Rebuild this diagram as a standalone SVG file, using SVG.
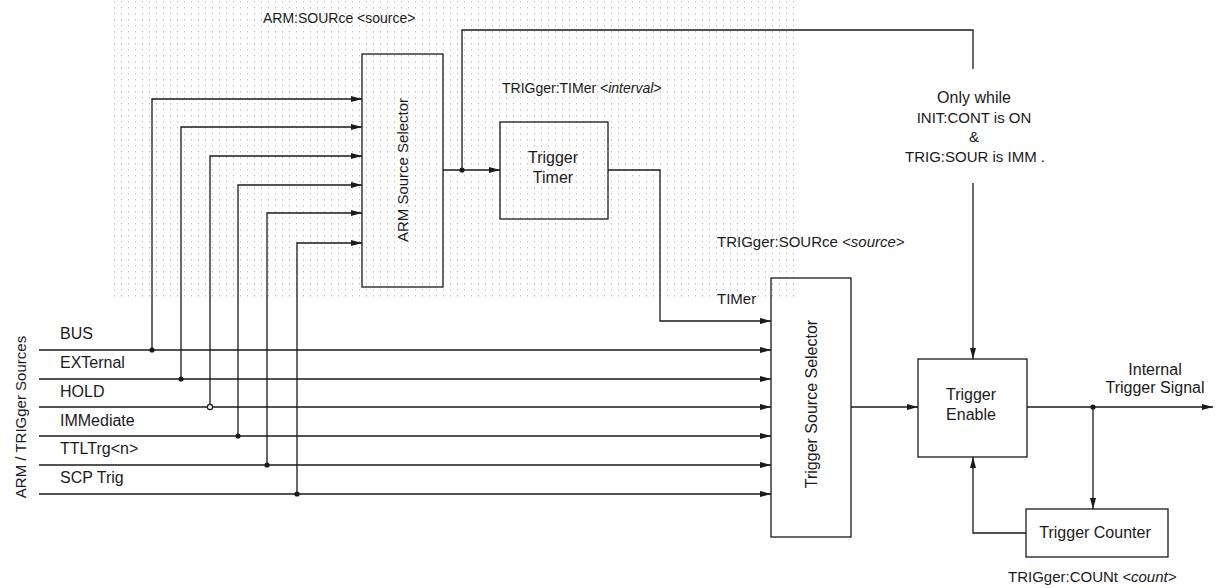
<svg xmlns="http://www.w3.org/2000/svg" width="1216" height="588" viewBox="0 0 1216 588">
<style>
text{font-family:"Liberation Sans",Arial,sans-serif;fill:#1a1a1a}
.lbl{font-size:16px}
.cmd{font-size:14.5px}
.box{fill:none;stroke:#1a1a1a;stroke-width:1.3}
.ln{fill:none;stroke:#1a1a1a;stroke-width:1.3}
.ar{marker-end:url(#arr)}
.dot{fill:#1a1a1a}
.odot{fill:#fff;stroke:#1a1a1a;stroke-width:1.2}
.it{font-style:italic}
</style>
<defs>
<marker id="arr" viewBox="0 0 11 7" refX="11" refY="3.5" markerWidth="11" markerHeight="7" markerUnits="userSpaceOnUse" orient="auto">
<path d="M0,0.5 L11,3.5 L0,6.5 z" fill="#1a1a1a"/>
</marker>
<pattern id="stip" width="7" height="6" patternUnits="userSpaceOnUse">
<rect x="2" y="1" width="1" height="1.5" fill="#8a8a8a"/>
</pattern>
</defs>
<rect width="1216" height="588" fill="#fff"/>
<rect x="110" y="0" width="690" height="300" fill="url(#stip)" opacity="0.55"/>

<g id="connectors">
<!-- source lines into Trigger Source Selector -->
<path class="ln ar" d="M39,350 H771"/>
<path class="ln ar" d="M39,379 H771"/>
<path class="ln ar" d="M39,407 H771"/>
<path class="ln ar" d="M39,436 H771"/>
<path class="ln ar" d="M39,465 H771"/>
<path class="ln ar" d="M39,494 H771"/>
<!-- taps to ARM Source Selector -->
<path class="ln ar" d="M152,350 V99 H362"/>
<path class="ln ar" d="M181,379 V127 H362"/>
<path class="ln ar" d="M210,407 V156 H362"/>
<path class="ln ar" d="M238,436 V185 H362"/>
<path class="ln ar" d="M267,465 V213 H362"/>
<path class="ln ar" d="M297,494 V243 H362"/>
<!-- ARM output to timer -->
<path class="ln ar" d="M443,170 H500"/>
<!-- ARM output to trigger enable -->
<path class="ln" d="M462,170 V30 H973 V69"/>
<path class="ln ar" d="M973,183 V359"/>
<!-- timer output -->
<path class="ln ar" d="M608,170 H660 V321 H771"/>
<!-- TSS to enable -->
<path class="ln ar" d="M851,407 H918"/>
<!-- enable output -->
<path class="ln ar" d="M1027,407 H1213"/>
<path class="ln ar" d="M1093,407 V509"/>
<!-- counter feedback -->
<path class="ln ar" d="M1026,533 H973 V457"/>
<!-- junctions -->
<circle class="dot" cx="152" cy="350" r="2.6"/>
<circle class="dot" cx="181" cy="379" r="2.6"/>
<circle class="odot" cx="210" cy="407" r="2.6"/>
<circle class="dot" cx="238" cy="436" r="2.6"/>
<circle class="dot" cx="267" cy="465" r="2.6"/>
<circle class="dot" cx="297" cy="494" r="2.6"/>
<circle class="dot" cx="462" cy="170" r="2.6"/>
<circle class="dot" cx="1093" cy="407" r="2.6"/>
</g>

<g id="sources">
<text class="lbl" transform="translate(26,417) rotate(-90)" text-anchor="middle" style="font-size:15px">ARM / TRIGger Sources</text>
<text class="lbl" x="60" y="339">BUS</text>
<text class="lbl" x="60" y="368">EXTernal</text>
<text class="lbl" x="60" y="397">HOLD</text>
<text class="lbl" x="60" y="426">IMMediate</text>
<text class="lbl" x="60" y="454">TTLTrg&lt;n&gt;</text>
<text class="lbl" x="60" y="483">SCP Trig</text>
</g>

<g id="arm-source-selector">
<rect class="box" x="362" y="54" width="81" height="233"/>
<text class="lbl" transform="translate(408,170) rotate(-90)" text-anchor="middle" style="font-size:15px">ARM Source Selector</text>
<text class="cmd" x="263" y="23" style="font-size:14px">ARM:SOURce &lt;source&gt;</text>
</g>

<g id="trigger-timer">
<rect class="box" x="500" y="122" width="108" height="97"/>
<text class="lbl" x="553" y="163" text-anchor="middle">Trigger</text>
<text class="lbl" x="553" y="183" text-anchor="middle">Timer</text>
<text class="cmd" x="502" y="93" style="font-size:14px">TRIGger:TIMer <tspan class="it">&lt;interval&gt;</tspan></text>
</g>

<g id="trigger-source-selector">
<rect class="box" x="771" y="278" width="80" height="259"/>
<text class="lbl" transform="translate(817,404) rotate(-90)" text-anchor="middle">Trigger Source Selector</text>
<text class="cmd" x="717" y="247" style="font-size:15px">TRIGger:SOURce <tspan class="it">&lt;source&gt;</tspan></text>
<text class="cmd" x="717" y="304" style="font-size:15px">TIMer</text>
</g>

<g id="condition">
<text class="lbl" x="974" y="103" text-anchor="middle">Only while</text>
<text class="lbl" x="974" y="123" text-anchor="middle" style="font-size:15px">INIT:CONT is ON</text>
<text class="lbl" x="974" y="142" text-anchor="middle" style="font-size:15px">&amp;</text>
<text class="lbl" x="975" y="162" text-anchor="middle" style="font-size:15px">TRIG:SOUR is IMM .</text>
</g>

<g id="trigger-enable">
<rect class="box" x="918" y="359" width="109" height="98"/>
<text class="lbl" x="971" y="400" text-anchor="middle">Trigger</text>
<text class="lbl" x="971" y="420" text-anchor="middle">Enable</text>
</g>

<g id="output-label">
<text class="lbl" x="1155" y="375" text-anchor="middle">Internal</text>
<text class="lbl" x="1155" y="393" text-anchor="middle">Trigger Signal</text>
</g>

<g id="trigger-counter">
<rect class="box" x="1026" y="509" width="142" height="48"/>
<text class="lbl" x="1095" y="538" text-anchor="middle">Trigger Counter</text>
<text class="cmd" x="1008" y="582" style="font-size:15px">TRIGger:COUNt <tspan class="it">&lt;count&gt;</tspan></text>
</g>
</svg>
